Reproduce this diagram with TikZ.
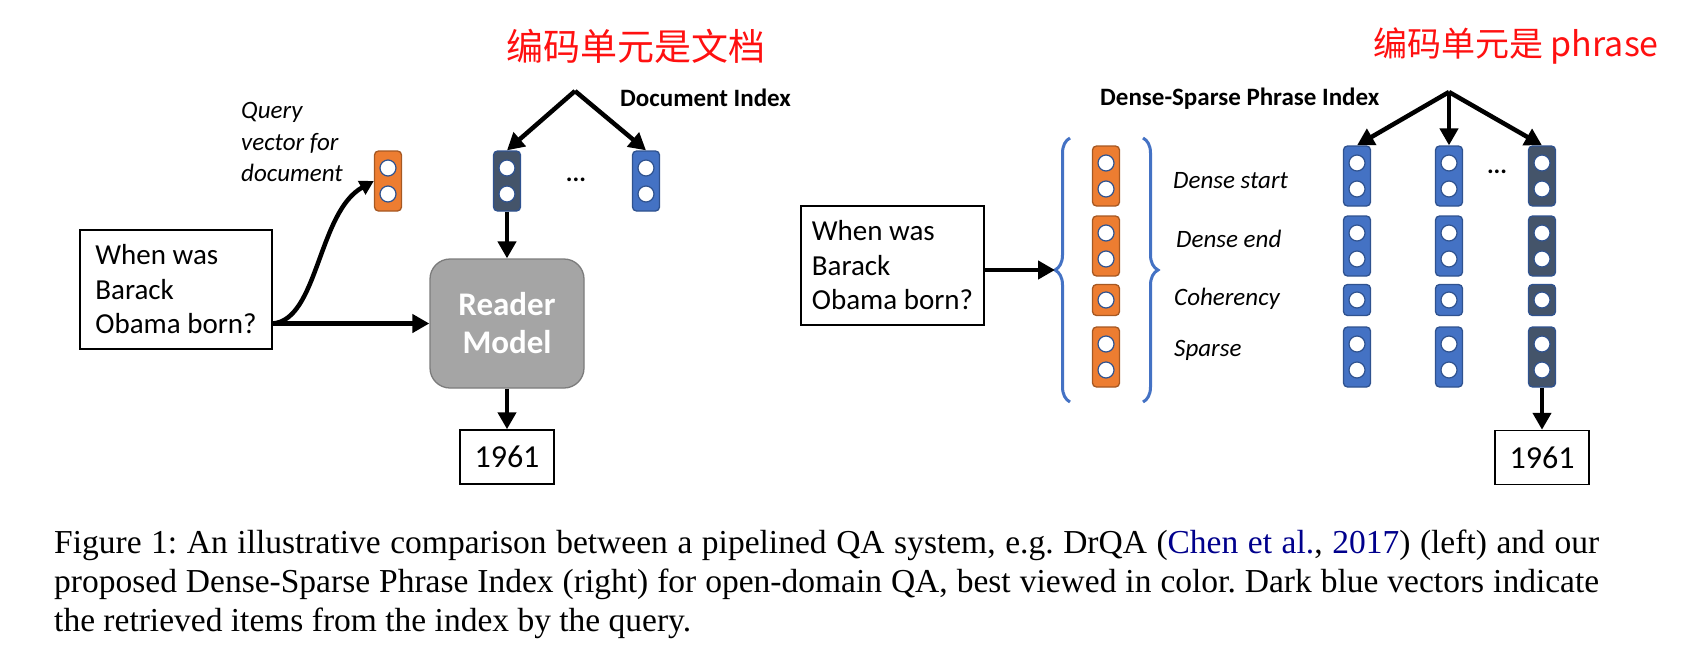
\documentclass[tikz,border=0pt]{standalone}
\usepackage{fontspec}
\setmainfont{Carlito}
\newfontfamily\capfont{Liberation Serif}
\newfontfamily\cjk{Noto Sans CJK SC}
\usetikzlibrary{arrows.meta,decorations.pathreplacing}
\definecolor{vorange}{HTML}{ED7D31}
\definecolor{vblue}{HTML}{4472C4}
\definecolor{vdark}{HTML}{44546A}
\definecolor{vedge}{HTML}{2F528F}
\definecolor{rgray}{HTML}{A5A5A5}
\definecolor{citeblue}{rgb}{0,0,0.55}
\definecolor{inkred}{HTML}{FF1010}
\begin{document}
\begin{tikzpicture}[x=1pt, y=-1pt,
    vec/.style={draw=vedge, line width=1.3pt, rounded corners=4pt, minimum width=27pt, inner sep=0pt},
    hole/.style={circle, draw=vedge, line width=1.2pt, fill=white, minimum size=16pt, inner sep=0pt},
    arr/.style={line width=4.5pt, -{Triangle[length=17pt, width=18pt]}},
    qbox/.style={draw, line width=1.5pt, align=left, minimum height=119pt, font=\fontsize{29}{34.5}\selectfont},
    ansbox/.style={draw, line width=1.5pt, minimum width=94pt, minimum height=54pt, font=\fontsize{32}{38}\selectfont},
    tag/.style={anchor=west, inner sep=0pt, font=\fontsize{25}{31.5}\selectfont\itshape},
    title/.style={anchor=west, inner sep=0pt, font=\fontsize{25}{30}\selectfont\bfseries},
    scrawl/.style={text=inkred, inner sep=0pt, font=\cjk\fontsize{#1}{#1}\selectfont},
    curly/.style={draw=vblue, line width=3pt, decorate, decoration={brace, amplitude=15pt}}]
  \useasboundingbox (0,0) rectangle (1700,646);

  % left: pipelined QA
  \node[qbox, minimum width=192pt] (q1) at (176,289.5) {When was\\Barack\\Obama born?};
  \node[tag, align=left] (qlabel) at (241,142) {Query\\vector for\\document};
  \node[vec, fill=vorange, draw=vorange!70!black, minimum height=60pt] (qv) at (388,181) {};
  \node[vec, fill=vdark, minimum height=60pt] (dv) at (507,181) {};
  \node[vec, fill=vblue, minimum height=60pt] (bv) at (646,181) {};
  \foreach \v in {qv,dv,bv}{
    \node[hole] (\v-a) at ([yshift=13pt]\v.center) {};
    \node[hole] (\v-b) at ([yshift=-13pt]\v.center) {};}
  \node[font=\fontsize{25}{30}\selectfont\bfseries] (ldots) at (576,180) {...};
  \node[title] (dindex) at (620,98) {Document Index};
  \node[scrawl=37] (note1) at (636,46) {编码单元是文档};
  \coordinate (lfork) at (575,91);
  \draw[arr] (lfork) -- (dv.north);
  \draw[arr] (lfork) -- (bv.north);

  \node[draw=rgray!75!black, line width=1.3pt, fill=rgray, rounded corners=20pt, minimum width=154pt, minimum height=129pt,
        text=white, align=center, font=\fontsize{33}{38}\selectfont\bfseries] (reader) at (507,323.5) {Reader\\Model};
  \node[ansbox] (ans1) at (507,457) {1961};
  \draw[arr] (dv.south) -- (reader.north);
  \draw[arr] (reader.south) -- (ans1.north);
  \draw[arr] (q1.east |- reader.west) -- (reader.west);
  \draw[arr, -{Triangle[length=14pt, width=15pt]}] (q1.east |- reader.west) .. controls (318,320) and (318,212) .. (qv.west);

  % right: dense-sparse phrase index
  \node[qbox, minimum width=183pt] (q2) at (892.5,265.5) {When was\\Barack\\Obama born?};
  \coordinate (btip) at (1055,270);
  \draw[curly] (1070,402) -- (1070,138);
  \draw[curly] (1143,138) -- (1143,402);
  \draw[arr] (q2.east |- btip) -- (btip);

  \foreach \col/\cx/\shade in {0/1106/vorange, 1/1357/vblue, 2/1449/vblue, 3/1542/vdark}{
    \foreach \row/\cy/\n in {1/176/2, 2/246/2, 3/300/1, 4/357/2}{
      \pgfmathsetmacro\h{\n*29+2}
      \ifnum\col=0
        \node[vec, fill=\shade, draw=vorange!70!black, minimum height=\h pt] (c\col-\row) at (\cx,\cy) {};
      \else
        \node[vec, fill=\shade, minimum height=\h pt] (c\col-\row) at (\cx,\cy) {};
      \fi
      \foreach \k in {1,...,\n}{
        \pgfmathsetmacro\off{(\k-(\n+1)/2)*26}
        \node[hole] (c\col-\row-\k) at ([yshift=-\off pt]c\col-\row.center) {};}
    }}
  \node[tag] (tstart) at (1173,181) {Dense start};
  \node[tag] (tend) at (1176,239) {Dense end};
  \node[tag] (tcoh) at (1174,299) {Coherency};
  \node[tag] (tsparse) at (1174,350) {Sparse};
  \node[font=\fontsize{25}{30}\selectfont\bfseries] (rdots) at (1497,172) {...};
  \node[title] (pindex) at (1100,99) {Dense-Sparse Phrase Index};
  \node[scrawl=34] (note2) at (1516,46) {编码单元是 phrase};
  \coordinate (rfork) at (1449,92);
  \foreach \c in {1,2,3}
    \draw[arr] (rfork) -- (c\c-1.north);
  \node[ansbox] (ans2) at (1542,457.5) {1961};
  \draw[arr] (c3-4.south) -- (ans2.north);

  % caption
  \node[anchor=base west, inner sep=0pt, font=\capfont\fontsize{33.5}{39}\selectfont] (caption) at (54,553)
    {\parbox[t]{1545pt}{\frenchspacing Figure 1: An illustrative comparison between a pipelined QA system, e.g. DrQA (\textcolor{citeblue}{Chen et al.}, \textcolor{citeblue}{2017}) (left) and our\linebreak proposed Dense-Sparse Phrase Index (right) for open-domain QA, best viewed in color. Dark blue vectors indicate\linebreak the retrieved items from the index by the query.}};
\end{tikzpicture}
\end{document}
